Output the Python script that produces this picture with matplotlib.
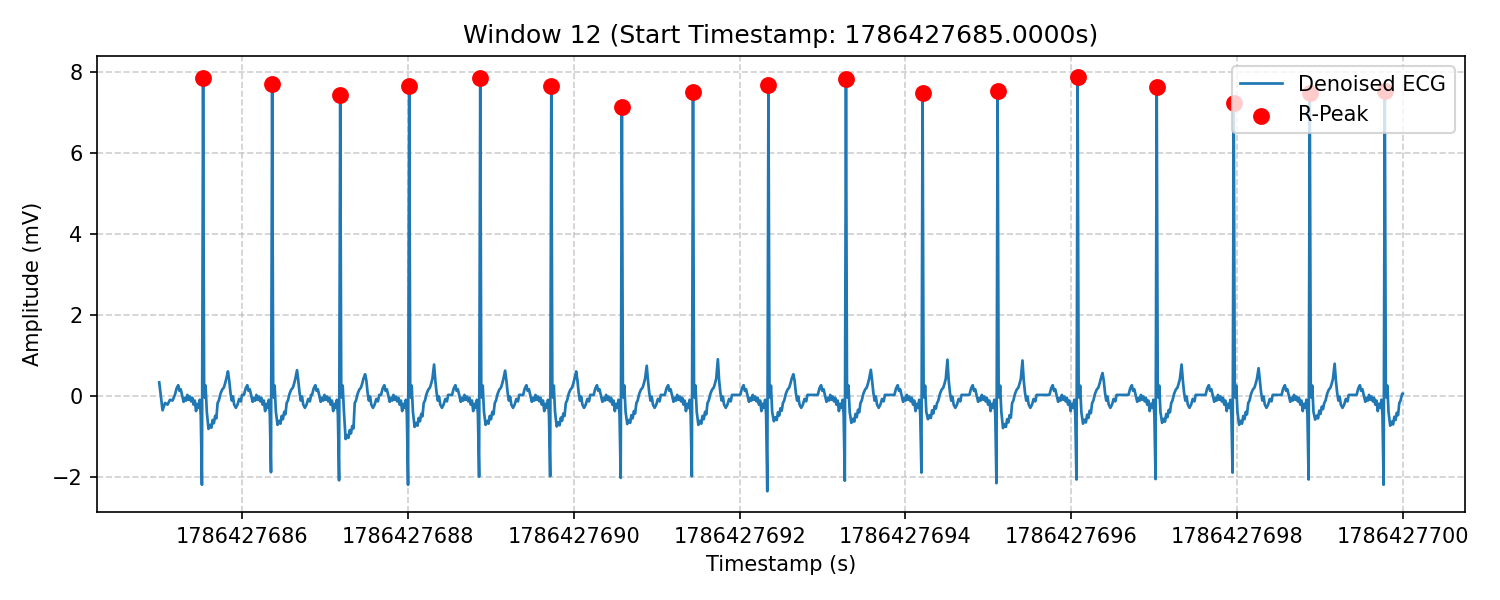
import numpy as np
import matplotlib
matplotlib.use("Agg")
import matplotlib.pyplot as plt

# ---------------- data ----------------
START_TS = 1786427685.0
END_OFFSET = 15.0

# R-peak times (s after window start) and amplitudes (mV)
R_OFFSETS = [0.529, 1.362, 2.183, 3.015, 3.872, 4.729, 5.580, 6.438, 7.348,
             8.283, 9.207, 10.112, 11.077, 12.031, 12.960, 13.877, 14.782]
R_VALUES = [7.84, 7.69, 7.42, 7.64, 7.86, 7.64, 7.13, 7.50, 7.67,
            7.82, 7.47, 7.52, 7.88, 7.63, 7.22, 7.48, 7.53]
# negative spike just before each R (mV)
Q_VALUES = [-2.20, -1.89, -2.09, -2.20, -2.00, -1.99, -2.03, -1.99, -2.36,
            -2.10, -1.90, -2.16, -2.07, -2.06, -1.90, -2.07, -2.20]
# trough after each R (mV)
S_VALUES = [-0.82, -0.72, -1.07, -0.77, -0.72, -0.76, -0.70, -0.72, -0.63,
            -0.67, -0.58, -0.80, -0.69, -0.67, -0.72, -0.59, -0.74]
# T-wave peak of each beat (mV)
T_VALUES = [0.60, 0.63, 0.53, 0.77, 0.62, 0.60, 0.74, 0.90, 0.53,
            0.64, 0.89, 0.87, 0.56, 0.77, 0.68, 0.79, 0.60]

# beat shape: offset from R (s), kind, value
# kind 'v' = absolute value, 'Q'/'R'/'T' = per-beat value, 'S' = S value + v
BEAT_DT = [-0.34, -0.32, -0.30, -0.285, -0.27, -0.25, -0.235, -0.22, -0.205,
           -0.19, -0.175, -0.16, -0.145, -0.13, -0.115, -0.10, -0.085, -0.07,
           -0.055, -0.04, -0.028, -0.014, 0.0, 0.012, 0.022, 0.03, 0.045,
           0.065, 0.085, 0.10, 0.115, 0.13, 0.145, 0.16, 0.175, 0.19, 0.21,
           0.23, 0.25, 0.265, 0.28, 0.30, 0.315, 0.33, 0.345, 0.36, 0.375,
           0.395, 0.415, 0.435, 0.455, 0.47]
BEAT_KIND = ['v', 'v', 'v', 'v', 'v', 'v', 'v', 'v', 'v',
             'v', 'v', 'v', 'v', 'v', 'v', 'v', 'v', 'v',
             'v', 'v', 'v', 'Q', 'R', 'v', 'v', 'v', 'v',
             'S', 'S', 'S', 'S', 'S', 'S', 'S', 'v', 'v', 'v',
             'v', 'v', 'v', 'v', 'T', 'v', 'v', 'v', 'v', 'v',
             'v', 'v', 'v', 'v', 'v']
BEAT_V = [0.02, 0.18, 0.26, 0.12, 0.16, -0.02, -0.15, -0.05, -0.12,
          0.02, -0.10, -0.02, -0.14, -0.05, -0.22, -0.12, -0.38, -0.20,
          -0.30, -0.10, -0.48, 0.0, 0.0, 0.30, -0.05, 0.25, -0.40,
          0.0, 0.10, 0.03, 0.22, 0.14, 0.32, 0.26, -0.18, -0.12, 0.05,
          0.15, 0.20, 0.30, 0.42, 0.0, 0.38, 0.08, -0.12, -0.02, -0.22,
          -0.30, -0.22, -0.08, -0.14, 0.02]

# trace before the first beat and final sample
LEAD_T = [0.0, 0.04, 0.07, 0.10, 0.13, 0.16]
LEAD_V = [0.33, -0.36, -0.18, -0.22, -0.10, -0.12]
END_V = 0.05

# ---------------- build trace ----------------
t_list = list(LEAD_T)
v_list = list(LEAD_V)
for i, r in enumerate(R_OFFSETS):
    per = {'Q': Q_VALUES[i], 'R': R_VALUES[i], 'T': T_VALUES[i]}
    for dt, kind, v in zip(BEAT_DT, BEAT_KIND, BEAT_V):
        tt = r + dt
        if tt <= t_list[-1] or tt >= END_OFFSET:
            continue
        if kind == 'v':
            val = v
        elif kind == 'S':
            val = S_VALUES[i] + v
        else:
            val = per[kind]
        t_list.append(tt)
        v_list.append(val)
t_list.append(END_OFFSET)
v_list.append(END_V)

ts = START_TS + np.array(t_list)
vs = np.array(v_list)
r_ts = START_TS + np.array(R_OFFSETS)

# ---------------- plot ----------------
fig, ax = plt.subplots(figsize=(10, 4), dpi=150)
ax.plot(ts, vs, color='C0', linewidth=1.3, label='Denoised ECG')
ax.scatter(r_ts, R_VALUES, color='red', s=50, zorder=3, label='R-Peak')
ax.set_title('Window 12 (Start Timestamp: 1786427685.0000s)')
ax.set_xlabel('Timestamp (s)')
ax.set_ylabel('Amplitude (mV)')
ax.grid(True, linestyle='--', alpha=0.6)
ax.ticklabel_format(axis='x', useOffset=False, style='plain')
ax.legend(loc='upper right')
fig.subplots_adjust(left=0.0647, right=0.9767, top=0.9067, bottom=0.1467)
fig.savefig('out.png', dpi=150)
